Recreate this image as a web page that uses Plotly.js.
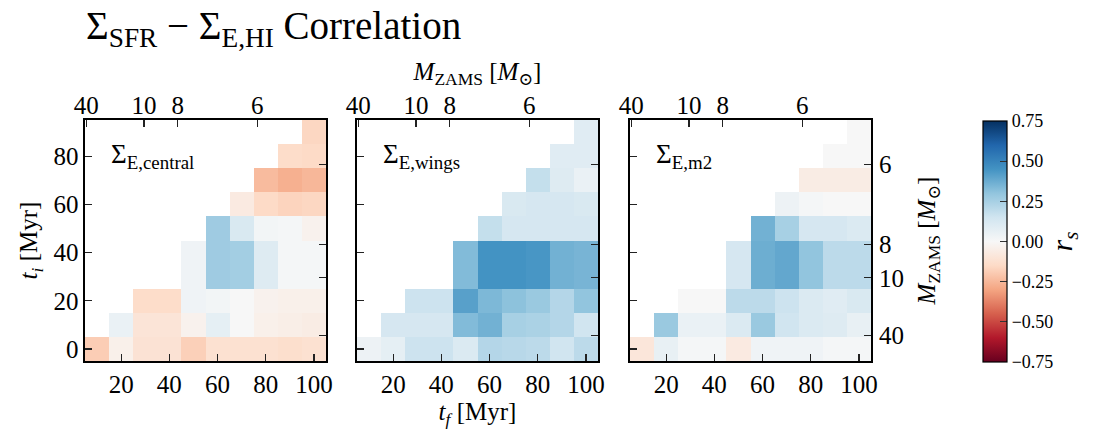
<!DOCTYPE html>
<html>
<head>
<meta charset="utf-8">
<script src="https://cdn.plot.ly/plotly-3.0.1.min.js"></script>
<style>html,body{margin:0;padding:0;background:#fff;}#chart{width:1097px;height:435px;}</style>
</head>
<body>
<div id="chart"></div>
<script>
// ---- Data ----
// bin edges of t_f (columns) and t_i (rows), in Myr
const tfEdges = [5, 15, 25, 45, 55, 65, 75, 85, 95, 105];
const tiEdges = [-5, 5, 15, 25, 45, 55, 65, 75, 85, 95];
const tfTickVals = [20, 40, 60, 80, 100];
const tiTickVals = [0, 20, 40, 60, 80];
// M_ZAMS tick positions (stellar lifetimes in Myr) and labels
const massTickTimes = [5.5, 29.5, 43.5, 76.5];
const massTickLabels = ['40', '10', '8', '6'];
const panelLabels = ['Σ<sub>E,central</sub>', 'Σ<sub>E,wings</sub>', 'Σ<sub>E,m2</sub>'];
const cbTickVals = [-0.75, -0.5, -0.25, 0, 0.25, 0.5, 0.75];

// Spearman r_s, rows = t_i bins (bottom to top), cols = t_f bins (left to right)
const centralRs = [
  [-0.19, -0.04, -0.11, -0.18, -0.12, -0.12, -0.12, -0.13, -0.12],
  [null, 0.05, -0.10, -0.03, 0.07, 0.00, -0.04, -0.05, -0.06],
  [null, null, -0.14, 0.03, 0.02, 0.00, -0.03, -0.04, -0.04],
  [null, null, null, 0.03, 0.27, 0.26, 0.10, 0.01, 0.01],
  [null, null, null, null, 0.27, 0.12, 0.02, 0.01, -0.03],
  [null, null, null, null, null, -0.07, -0.15, -0.17, -0.16],
  [null, null, null, null, null, null, -0.24, -0.27, -0.25],
  [null, null, null, null, null, null, null, -0.14, -0.15],
  [null, null, null, null, null, null, null, null, -0.16]
];
const wingsRs = [
  [0.04, 0.07, 0.16, 0.11, 0.22, 0.21, 0.20, 0.15, 0.20],
  [null, 0.13, 0.13, 0.33, 0.36, 0.25, 0.24, 0.22, 0.15],
  [null, null, 0.16, 0.41, 0.34, 0.31, 0.28, 0.22, 0.30],
  [null, null, null, 0.33, 0.45, 0.45, 0.44, 0.36, 0.35],
  [null, null, null, null, 0.18, 0.13, 0.13, 0.13, 0.13],
  [null, null, null, null, null, 0.12, 0.13, 0.13, 0.12],
  [null, null, null, null, null, null, 0.18, 0.10, 0.05],
  [null, null, null, null, null, null, null, 0.09, 0.09],
  [null, null, null, null, null, null, null, null, 0.09]
];
const m2Rs = [
  [-0.09, 0.06, 0.01, -0.07, 0.03, 0.03, 0.03, 0.01, 0.01],
  [null, 0.28, 0.05, 0.11, 0.28, 0.15, 0.11, 0.10, 0.06],
  [null, null, 0.00, 0.20, 0.20, 0.16, 0.11, 0.09, 0.12],
  [null, null, null, 0.13, 0.37, 0.39, 0.30, 0.20, 0.20],
  [null, null, null, null, 0.36, 0.25, 0.13, 0.13, 0.11],
  [null, null, null, null, null, 0.04, 0.01, 0.00, 0.00],
  [null, null, null, null, null, null, -0.06, -0.06, -0.06],
  [null, null, null, null, null, null, null, 0.00, 0.00],
  [null, null, null, null, null, null, null, null, 0.00]
];
const panels = [centralRs, wingsRs, m2Rs];

// matplotlib RdBu
const rdbu = [
  [0.0, '#67001f'], [0.1, '#b2182b'], [0.2, '#d6604d'], [0.3, '#f4a582'],
  [0.4, '#fddbc7'], [0.5, '#f7f7f7'], [0.6, '#d1e5f0'], [0.7, '#92c5de'],
  [0.8, '#4393c3'], [0.9, '#2166ac'], [1.0, '#053061']
];

const W = 1097, H = 435;
const FONT = '"Liberation Serif", "DejaVu Serif", serif';
const panelPx = [[85, 326], [357, 598], [630, 871]];
const yDom = [1 - 361 / H, 1 - 120 / H];
const tickFont = {family: FONT, size: 25, color: '#000'};

const traces = [];
const layout = {
  width: W, height: H,
  margin: {l: 0, r: 0, t: 0, b: 0},
  paper_bgcolor: '#fff', plot_bgcolor: 'rgba(0,0,0,0)',
  font: {family: FONT, color: '#000'},
  showlegend: false,
  title: {
    text: 'Σ<sub>SFR</sub> − Σ<sub>E,HI</sub> Correlation',
    x: 86 / W, xanchor: 'left', xref: 'container',
    y: 1 - 25 / H, yanchor: 'middle', yref: 'container',
    font: {family: FONT, size: 39, color: '#000'}
  },
  annotations: []
};

panels.forEach((z, i) => {
  const n = i + 1;
  const sfx = n === 1 ? '' : String(n);
  const xd = [panelPx[i][0] / W, panelPx[i][1] / W];
  traces.push({
    type: 'heatmap', x: tfEdges, y: tiEdges, z: z,
    xaxis: 'x' + sfx, yaxis: 'y' + sfx,
    colorscale: rdbu, zmin: -0.75, zmax: 0.75, zsmooth: false,
    showscale: i === 2,
    colorbar: {
      x: 983 / W, xanchor: 'left', y: 1 - 241.5 / H, yanchor: 'middle',
      thickness: 24, thicknessmode: 'pixels', len: 241, lenmode: 'pixels',
      outlinewidth: 1.2, outlinecolor: '#000', xpad: 0, ypad: 0,
      tickvals: cbTickVals, tickformat: '.2f', ticks: 'inside', ticklen: 7,
      tickcolor: '#333', tickwidth: 1,
      tickfont: {family: FONT, size: 18, color: '#000'},
      title: {text: ' <i>r</i><sub><i>s</i></sub>', side: 'right', font: {family: FONT, size: 30, color: '#000'}}
    },
    hoverongaps: false
  });
  // mass axes carrier (no data): lets the top/right M_ZAMS axes be drawn
  traces.push({
    type: 'scatter', mode: 'markers', x: [], y: [],
    xaxis: 'x' + (n + 3), yaxis: 'y' + (n + 3),
    hoverinfo: 'skip', showlegend: false
  });
  // bottom t_f axis
  layout['xaxis' + sfx] = {
    domain: xd, anchor: 'y' + sfx, range: [5, 105], fixedrange: true,
    tickmode: 'array', tickvals: tfTickVals, ticks: 'inside', ticklen: 7, tickwidth: 1.2, tickcolor: '#222',
    showline: true, mirror: true, linecolor: '#000', linewidth: 1.6,
    showgrid: false, zeroline: false, tickfont: tickFont,
    title: n === 2 ? {text: '<i>t</i><sub><i>f</i></sub> [Myr]', font: {family: FONT, size: 25}, standoff: 4} : undefined
  };
  // left t_i axis
  layout['yaxis' + sfx] = {
    domain: yDom, anchor: 'x' + sfx, range: [-5, 95], fixedrange: true,
    tickmode: 'array', tickvals: tiTickVals, ticks: 'inside', ticklen: 7, tickwidth: 1.2, tickcolor: '#222',
    showline: true, mirror: true, linecolor: '#000', linewidth: 1.6,
    showgrid: false, zeroline: false, tickfont: tickFont, showticklabels: n === 1,
    title: n === 1 ? {text: '<i>t</i><sub><i>i</i></sub> [Myr]', font: {family: FONT, size: 25}, standoff: 8} : undefined
  };
  // top M_ZAMS axis
  layout['xaxis' + (n + 3)] = {
    domain: xd, anchor: 'y' + sfx, overlaying: 'x' + sfx, side: 'top', range: [5, 105], fixedrange: true,
    tickmode: 'array', tickvals: massTickTimes, ticktext: massTickLabels,
    ticks: 'inside', ticklen: 7, tickwidth: 1.2, tickcolor: '#222',
    showline: false, showgrid: false, zeroline: false, tickfont: tickFont,
    title: n === 2 ? {text: '<i>M</i><sub>ZAMS</sub> [<i>M</i><sub>⊙</sub>]', font: {family: FONT, size: 25}, standoff: 4} : undefined
  };
  // right M_ZAMS axis
  layout['yaxis' + (n + 3)] = {
    domain: yDom, anchor: 'x' + sfx, overlaying: 'y' + sfx, side: 'right', range: [-5, 95], fixedrange: true,
    tickmode: 'array', tickvals: massTickTimes, ticktext: massTickLabels,
    ticks: 'inside', ticklen: 7, tickwidth: 1.2, tickcolor: '#222', ticklabelstandoff: 7,
    showline: false, showgrid: false, zeroline: false, tickfont: tickFont, showticklabels: n === 3,
    title: n === 3 ? {text: '<i>M</i><sub>ZAMS</sub> [<i>M</i><sub>⊙</sub>]', font: {family: FONT, size: 25}, standoff: 14} : undefined
  };
  layout.annotations.push({
    text: panelLabels[i], xref: 'x' + sfx + ' domain', yref: 'y' + sfx + ' domain',
    x: 0.1, y: 0.85, xanchor: 'left', yanchor: 'middle', showarrow: false,
    font: {family: FONT, size: 27, color: '#000'}
  });
});

Plotly.newPlot('chart', traces, layout, {displayModeBar: false, staticPlot: true});
</script>
</body>
</html>
